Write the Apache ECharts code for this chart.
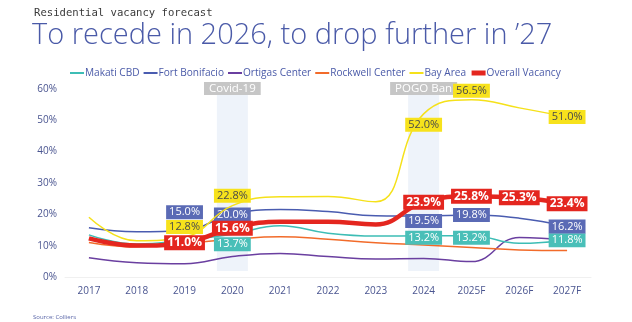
<!DOCTYPE html>
<html>
<head>
<meta charset="utf-8">
<script src="https://cdn.jsdelivr.net/npm/echarts@6/dist/echarts.min.js"></script>
<style>html,body{margin:0;padding:0;background:#fff}#c{width:632px;height:322px}</style>
</head>
<body>
<div id="c"></div>
<script>
const categories = ['2017','2018','2019','2020','2021','2022','2023','2024','2025F','2026F','2027F'];
const makati        = [13.5, 10.6, 11.8, 13.7, 16.4, 14.0, 13.1, 13.2, 13.2, 10.8, 11.8];
const fortBonifacio = [15.8, 14.5, 15.0, 20.0, 21.6, 20.9, 19.6, 19.5, 19.8, 18.8, 16.2];
const ortigas       = [6.2, 4.6, 4.3, 6.6, 7.6, 6.6, 5.8, 6.0, 5.0, 12.7, 11.9];
const rockwell      = [11.1, 9.7, 10.8, 12.1, 12.9, 12.1, 11.0, 10.3, 9.5, 8.7, 8.5];
const bayArea       = [19.1, 11.6, 12.8, 22.8, 25.6, 25.7, 24.0, 52.0, 56.5, 53.9, 51.0];
const overall       = [12.4, 10.1, 11.0, 15.6, 17.7, 17.7, 16.8, 23.9, 25.8, 25.3, 23.4];
const yTicks = [0, 10, 20, 30, 40, 50, 60];

// labelled points per series
const makatiLabelled  = ['2020', '2024', '2025F', '2027F'];
const fortLabelled    = ['2019', '2020', '2024', '2025F', '2027F'];
const bayLabelled     = ['2019', '2020', '2024', '2025F', '2027F'];
const overallLabelled = ['2019', '2020', '2024', '2025F', '2026F', '2027F'];

// event bands
const eventNames = ['Covid-19', 'POGO Ban'];
const eventYears = ['2020', '2024'];
const eventFrom = [2, 2];
const eventTo = [58, 58];

// styling (offsets of labels, in px)
const offsets = {
  'Fort Bonifacio': {'2019': -18, '2024': 5},
  'Bay Area': {'2019': -10, '2020': -10, '2024': 11, '2025F': -9},
  'Makati CBD': {'2020': 10, '2024': 2, '2025F': 2}
};

function labelled(name, values, which, box, textColor, bold, fs) {
  return values.map((v, i) => {
    const cat = categories[i];
    if (!which.includes(cat)) return v;
    const off = (offsets[name] && offsets[name][cat]) || 0;
    return {
      value: v,
      label: {
        show: true, position: 'inside', offset: [0, off],
        formatter: (p) => p.value.toFixed(1) + '%',
        backgroundColor: box, color: textColor,
        fontWeight: bold ? 'bold' : 'normal', fontSize: fs,
        fontFamily: 'Open Sans', padding: [2, 3, 1, 3]
      }
    };
  });
}

const bandBase = categories.map(c => { const k = eventYears.indexOf(c); return k < 0 ? '-' : eventFrom[k]; });
const bandHeight = categories.map(c => { const k = eventYears.indexOf(c); return k < 0 ? '-' : eventTo[k] - eventFrom[k]; });

function lineSeries(name, data, color, width, z) {
  return {
    name, type: 'line', data, smooth: 0.45, symbol: 'circle', symbolSize: 0, showSymbol: true,
    lineStyle: {color, width}, itemStyle: {color}, z, emphasis: {disabled: true}
  };
}

const chart = echarts.init(document.getElementById('c'), null, {renderer: 'canvas'});
chart.setOption({
  animation: false,
  title: [
    {text: 'Residential vacancy forecast', left: 29, top: 3, textStyle: {fontSize: 10.6, fontWeight: 'normal', color: '#3a3a3a', fontFamily: 'DejaVu Sans Mono'}},
    {text: 'To recede in 2026, to drop further in \u201927', left: 27, top: 16, textStyle: {fontSize: 29, fontWeight: 300, color: '#4a5aa8', fontFamily: 'Open Sans'}},
    {text: 'Source: Colliers', left: 28, top: 309, textStyle: {fontSize: 6, fontWeight: 'normal', color: '#5a66a8', fontFamily: 'Open Sans'}}
  ],
  legend: {
    top: 63, left: 64, itemGap: 3, itemWidth: 14, itemHeight: 8,
    textStyle: {fontSize: 10.1, color: '#4a5aa8', fontFamily: 'Open Sans', padding: [0, 0, 0, -4]},
    itemStyle: {opacity: 0},
    data: [
      {name: 'Makati CBD', lineStyle: {width: 2}},
      {name: 'Fort Bonifacio', lineStyle: {width: 2}},
      {name: 'Ortigas Center', lineStyle: {width: 2}},
      {name: 'Rockwell Center', lineStyle: {width: 2}},
      {name: 'Bay Area', lineStyle: {width: 2}},
      {name: 'Overall Vacancy', lineStyle: {width: 5}}
    ]
  },
  grid: {left: 65, right: 41, top: 88.7, bottom: 44.7},
  xAxis: {
    type: 'category', data: categories, boundaryGap: true,
    axisLine: {show: true, lineStyle: {color: '#f0f0f0'}}, axisTick: {show: false},
    axisLabel: {color: '#4a5590', fontSize: 10, fontFamily: 'Open Sans', margin: 9}
  },
  yAxis: {
    type: 'value', min: yTicks[0], max: yTicks[yTicks.length - 1], interval: 10,
    axisLabel: {color: '#4a5590', fontSize: 10, fontFamily: 'Open Sans', formatter: '{value}%', margin: 8},
    splitLine: {show: false}, axisLine: {show: false}, axisTick: {show: false}
  },
  series: [
    {type: 'bar', stack: 'band', data: bandBase, barWidth: 31, itemStyle: {color: 'rgba(0,0,0,0)'}, z: 1, silent: true},
    {type: 'bar', stack: 'band', data: bandHeight, barWidth: 31, itemStyle: {color: '#eef3fa'}, z: 1, silent: true,
      label: {show: true, position: 'top', distance: 0,
        formatter: (p) => eventNames[eventYears.indexOf(p.name)],
        backgroundColor: '#c6c6c6', color: '#ffffff', fontSize: 11.5, fontFamily: 'Open Sans', padding: [1, 5, 0, 5]}},
    lineSeries('Makati CBD', labelled('Makati CBD', makati, makatiLabelled, '#49bfb8', '#ffffff', false, 11), '#3dbdb5', 1.5, 3),
    lineSeries('Fort Bonifacio', labelled('Fort Bonifacio', fortBonifacio, fortLabelled, '#5a6ab5', '#ffffff', false, 11), '#4a5cb0', 1.5, 4),
    lineSeries('Ortigas Center', ortigas, '#6a3fa0', 1.5, 2),
    lineSeries('Rockwell Center', rockwell, '#f26b2a', 1.5, 2),
    lineSeries('Bay Area', labelled('Bay Area', bayArea, bayLabelled, '#f7e21c', '#4a4a4a', false, 11), '#f5e11a', 1.5, 5),
    lineSeries('Overall Vacancy', labelled('Overall Vacancy', overall, overallLabelled, '#e4261f', '#ffffff', true, 12), '#e4261f', 4.5, 6)
  ]
});
</script>
</body>
</html>
